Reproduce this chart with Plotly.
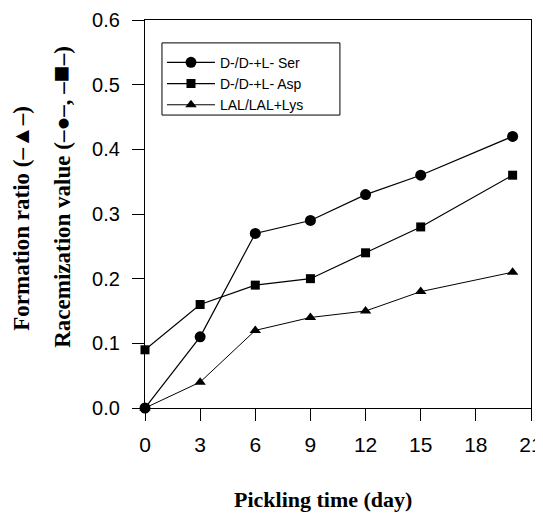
import plotly.graph_objects as go

days = [0, 3, 6, 9, 12, 15, 20]
ser = [0.0, 0.11, 0.27, 0.29, 0.33, 0.36, 0.42]
asp = [0.09, 0.16, 0.19, 0.20, 0.24, 0.28, 0.36]
lys = [0.0, 0.04, 0.12, 0.14, 0.15, 0.18, 0.21]
names = ["D-/D-+L- Ser", "D-/D-+L- Asp", "LAL/LAL+Lys"]
x_ticks = [0, 3, 6, 9, 12, 15, 18, 21]
y_ticks = [0.0, 0.1, 0.2, 0.3, 0.4, 0.5, 0.6]

fig = go.Figure()
fig.add_trace(go.Scatter(x=days, y=ser, name=names[0], mode="lines+markers",
                         line=dict(color="black", width=1.2),
                         marker=dict(symbol="circle", size=11, color="black"),
                         cliponaxis=False))
fig.add_trace(go.Scatter(x=days, y=asp, name=names[1], mode="lines+markers",
                         line=dict(color="black", width=1.2),
                         marker=dict(symbol="square", size=9, color="black"),
                         cliponaxis=False))
fig.add_trace(go.Scatter(x=days, y=lys, name=names[2], mode="lines+markers",
                         line=dict(color="black", width=1),
                         marker=dict(symbol="triangle-up", size=10, color="black"),
                         cliponaxis=False))

fig.update_layout(
    width=535, height=505,
    margin=dict(l=137, r=12, t=12, b=105, autoexpand=False),
    plot_bgcolor="white", paper_bgcolor="white",
    font=dict(family="Liberation Sans, Arial", color="black", size=17),
    showlegend=True,
    legend=dict(x=0.044, y=0.931, xanchor="left", yanchor="top",
                borderwidth=0, bgcolor="rgba(0,0,0,0)",
                font=dict(size=14, family="Liberation Sans, Arial"),
                tracegroupgap=0, itemwidth=48),
    xaxis=dict(range=[0, 21], tickvals=x_ticks, ticks="outside", ticklen=12,
               tickcolor="black", linecolor="black", linewidth=1.3, mirror=True,
               showgrid=False, zeroline=False, tickfont=dict(size=21),
               ticklabelstandoff=6, automargin=False),
    yaxis=dict(range=[0, 0.6], tickvals=y_ticks, tickformat=".1f", ticks="outside",
               ticklen=12, tickcolor="black", linecolor="black", linewidth=1.3,
               mirror=True, showgrid=False, zeroline=False, tickfont=dict(size=20),
               ticklabelstandoff=8, automargin=False),
)

# legend frame
fig.add_shape(type="rect", xref="paper", yref="paper",
              x0=0.044, x1=0.505, y0=0.755, y1=0.941,
              line=dict(color="black", width=1), fillcolor="rgba(0,0,0,0)",
              layer="above")

serif = "Liberation Serif, Times New Roman"
fig.add_annotation(text="<b>Pickling time (day)</b>", xref="paper", yref="paper",
                   x=0.462, y=-0.237, xanchor="center", yanchor="middle", showarrow=False,
                   font=dict(family=serif, size=22))
fig.add_annotation(text="<b>Formation ratio (–▲–)</b>", xref="paper", yref="paper",
                   x=-0.319, y=0.49, xanchor="center", yanchor="middle",
                   textangle=-90, showarrow=False,
                   font=dict(family=serif, size=23))
fig.add_annotation(text="<b>Racemization value (–●–, –<span style='font-size:28px'>■</span>–)</b>",
                   xref="paper", yref="paper",
                   x=-0.218, y=0.544, xanchor="center", yanchor="middle",
                   textangle=-90, showarrow=False,
                   font=dict(family=serif, size=23))

fig.write_html("out.html")
